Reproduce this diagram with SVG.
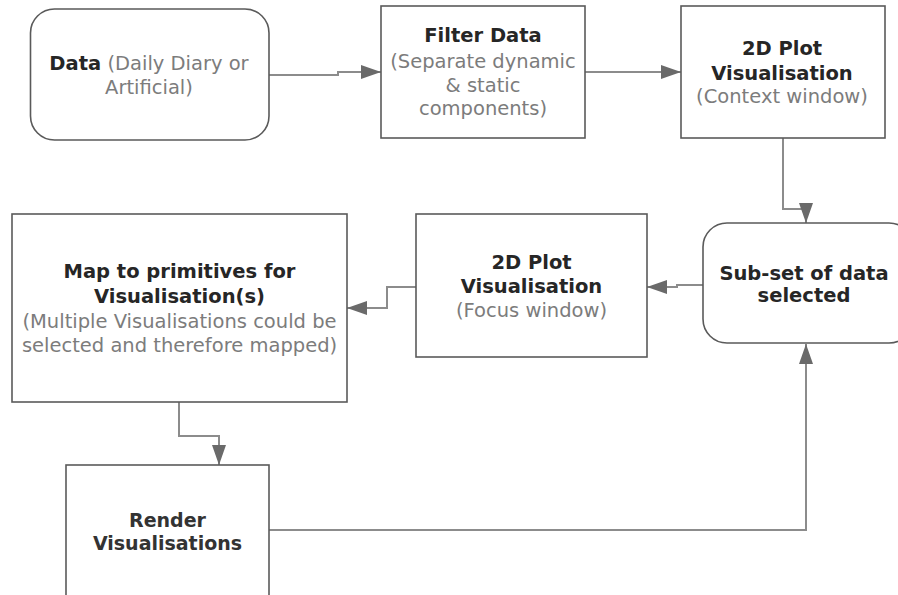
<svg xmlns="http://www.w3.org/2000/svg" width="898" height="595" viewBox="0 0 898 595">
  <defs>
    <style>
      .box { fill: #ffffff; stroke: #5a5a5a; stroke-width: 1.6; }
      .wire { fill: none; stroke: #8c8c8c; stroke-width: 2; }
      text { font-family: "DejaVu Sans", Verdana, sans-serif; font-size: 19.5px; text-anchor: middle; }
      .b { font-weight: bold; fill: #262626; }
      .n { fill: #7c7c7c; }
      .r { font-weight: bold; fill: #333333; font-size: 19px; }
    </style>
    <marker id="arrow" markerUnits="userSpaceOnUse" markerWidth="20" markerHeight="14" refX="20" refY="7" orient="auto">
      <path d="M0,0 L20,7 L0,14 Z" fill="#6a6a6a"/>
    </marker>
  </defs>

  <rect width="898" height="595" fill="#ffffff"/>

  <!-- connectors -->
  <g id="connectors">
    <path class="wire" d="M269,75 H338 V72 H381" marker-end="url(#arrow)"/>
    <path class="wire" d="M585,72 H681" marker-end="url(#arrow)"/>
    <path class="wire" d="M783,138 V209 H806 V223" marker-end="url(#arrow)"/>
    <path class="wire" d="M703,285 H677 V287 H647" marker-end="url(#arrow)"/>
    <path class="wire" d="M416,287 H387 V308 H347" marker-end="url(#arrow)"/>
    <path class="wire" d="M179,402 V436 H219 V465" marker-end="url(#arrow)"/>
    <path class="wire" d="M269,530 H806 V344" marker-end="url(#arrow)"/>
  </g>

  <g id="data">
    <rect class="box" x="30.5" y="9" width="238.5" height="131" rx="24"/>
    <text x="149" y="70"><tspan class="b">Data</tspan><tspan class="n"> (Daily Diary or</tspan></text>
    <text class="n" x="149" y="94">Artificial)</text>
  </g>

  <g id="filter">
    <rect class="box" x="381" y="6" width="204" height="132"/>
    <text class="b" x="483" y="41.5">Filter Data</text>
    <text class="n" x="483" y="67.5">(Separate dynamic</text>
    <text class="n" x="483" y="91.5">&amp; static</text>
    <text class="n" x="483" y="115">components)</text>
  </g>

  <g id="context-plot">
    <rect class="box" x="681" y="6" width="204" height="132"/>
    <text class="b" x="782" y="55">2D Plot</text>
    <text class="b" x="782" y="80">Visualisation</text>
    <text class="n" x="782" y="103">(Context window)</text>
  </g>

  <g id="subset">
    <rect class="box" x="703" y="223" width="210" height="120" rx="24"/>
    <text class="b" x="804" y="280">Sub-set of data</text>
    <text class="b" x="804" y="302">selected</text>
  </g>

  <g id="focus-plot">
    <rect class="box" x="416" y="214" width="231" height="143"/>
    <text class="b" x="531.5" y="269">2D Plot</text>
    <text class="b" x="531.5" y="293">Visualisation</text>
    <text class="n" x="531.5" y="317">(Focus window)</text>
  </g>

  <g id="map">
    <rect class="box" x="12" y="214" width="335" height="188"/>
    <text class="b" x="179.5" y="278">Map to primitives for</text>
    <text class="b" x="179.5" y="303">Visualisation(s)</text>
    <text class="n" x="179.5" y="328">(Multiple Visualisations could be</text>
    <text class="n" x="179.5" y="352">selected and therefore mapped)</text>
  </g>

  <g id="render">
    <rect class="box" x="66" y="465" width="203" height="140"/>
    <text class="r" x="167.5" y="526.5">Render</text>
    <text class="r" x="167.5" y="550">Visualisations</text>
  </g>
</svg>
